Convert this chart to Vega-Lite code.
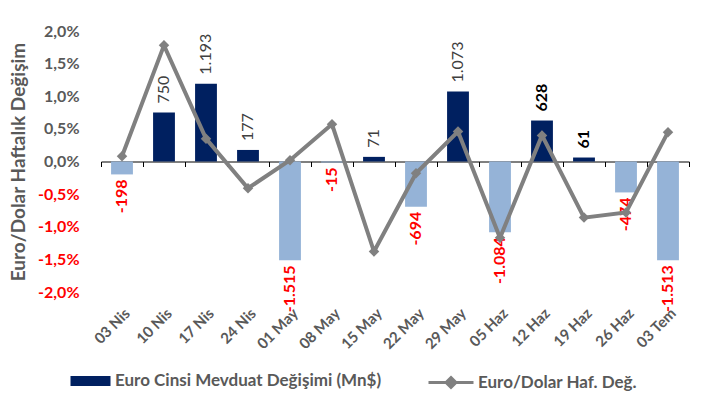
{
  "$schema": "https://vega.github.io/schema/vega-lite/v6.json",
  "width": 588,
  "height": 261,
  "autosize": {"type": "none"},
  "padding": {"left": 101, "top": 31, "right": 13, "bottom": 109},
  "background": "white",
  "config": {
    "locale": {"number": {"decimal": ",", "thousands": ".", "grouping": [3], "currency": ["", ""], "minus": "-"}},
    "view": {"stroke": null},
    "font": "Lato"
  },
  "data": {
    "values": [
      {"d": "03 Nis", "v": -198, "e": 0.0008},
      {"d": "10 Nis", "v": 750, "e": 0.0178},
      {"d": "17 Nis", "v": 1193, "e": 0.0035},
      {"d": "24 Nis", "v": 177, "e": -0.0041},
      {"d": "01 May", "v": -1515, "e": 0.0002},
      {"d": "08 May", "v": -15, "e": 0.0057},
      {"d": "15 May", "v": 71, "e": -0.0138},
      {"d": "22 May", "v": -694, "e": -0.0018},
      {"d": "29 May", "v": 1073, "e": 0.0046},
      {"d": "05 Haz", "v": -1084, "e": -0.0117},
      {"d": "12 Haz", "v": 628, "e": 0.0040},
      {"d": "19 Haz", "v": 61, "e": -0.0086},
      {"d": "26 Haz", "v": -474, "e": -0.0078},
      {"d": "03 Tem", "v": -1513, "e": 0.0045}
    ]
  },
  "layer": [
    {
      "mark": {"type": "bar", "width": {"band": 0.52}},
      "encoding": {
        "x": {
          "field": "d", "type": "nominal", "sort": null, "title": null,
          "scale": {"paddingInner": 0, "paddingOuter": 0},
          "axis": {
            "orient": "bottom", "offset": -130.5, "domain": true, "domainColor": "#000000", "domainWidth": 1,
            "ticks": true, "tickColor": "#000000", "tickSize": 5, "tickBand": "extent",
            "labelAngle": -45, "labelPadding": 139, "labelFont": "Lato", "labelFontSize": 15,
            "labelFontWeight": "bold", "labelColor": "#595959", "grid": false
          }
        },
        "y": {"field": "v", "type": "quantitative", "scale": {"domain": [-2000, 2000], "nice": false, "zero": false}, "axis": null},
        "color": {
          "datum": "Euro Cinsi Mevduat Değişimi (Mn$)",
          "scale": {"range": ["#002060"]},
          "condition": {"test": "datum.v < 0", "value": "#95B3D7"},
          "legend": {
            "orient": "none", "legendX": -30.5, "legendY": 330, "title": null, "padding": 0,
            "symbolType": "M-1,-0.25H1V0.25H-1Z", "symbolSize": 1600, "symbolStrokeWidth": 0,
            "labelFont": "Lato", "labelFontSize": 17, "labelFontWeight": "bold", "labelColor": "#595959", "labelOffset": 4.5, "labelLimit": 400
          }
        }
      }
    },
    {
      "transform": [{"filter": "datum.v >= 0 && datum.d !== '12 Haz' && datum.d !== '19 Haz'"}],
      "mark": {"type": "text", "angle": 270, "align": "left", "baseline": "middle", "dx": 9, "font": "Lato", "fontSize": 16, "color": "#404040"},
      "encoding": {
        "x": {"field": "d", "type": "nominal", "sort": null, "title": null},
        "y": {"field": "v", "type": "quantitative", "scale": {"domain": [-2000, 2000], "nice": false, "zero": false}, "axis": null},
        "text": {"field": "v", "type": "quantitative", "format": ",d"}
      }
    },
    {
      "transform": [{"filter": "datum.d === '12 Haz' || datum.d === '19 Haz'"}],
      "mark": {"type": "text", "angle": 270, "align": "left", "baseline": "middle", "dx": 9, "font": "Lato", "fontSize": 16, "fontWeight": "bold", "color": "#000000"},
      "encoding": {
        "x": {"field": "d", "type": "nominal", "sort": null, "title": null},
        "y": {"field": "v", "type": "quantitative", "scale": {"domain": [-2000, 2000], "nice": false, "zero": false}, "axis": null},
        "text": {"field": "v", "type": "quantitative", "format": ",d"}
      }
    },
    {
      "transform": [{"filter": "datum.v < 0"}],
      "mark": {"type": "text", "angle": 270, "align": "right", "baseline": "middle", "dx": -5, "font": "Lato", "fontSize": 16, "fontWeight": "bold", "color": "#FF0000"},
      "encoding": {
        "x": {"field": "d", "type": "nominal", "sort": null, "title": null},
        "y": {"field": "v", "type": "quantitative", "scale": {"domain": [-2000, 2000], "nice": false, "zero": false}, "axis": null},
        "text": {"field": "v", "type": "quantitative", "format": ",d"}
      }
    },
    {
      "mark": {"type": "line", "strokeWidth": 4, "point": {"shape": "diamond", "size": 110, "filled": true}},
      "encoding": {
        "x": {"field": "d", "type": "nominal", "sort": null, "title": null},
        "y": {
          "field": "e", "type": "quantitative",
          "scale": {"domain": [-0.02, 0.02], "nice": false, "zero": false},
          "axis": {
            "values": [-0.02, -0.015, -0.01, -0.005, 0, 0.005, 0.01, 0.015, 0.02],
            "format": ".1%", "domain": false, "ticks": false, "grid": false,
            "labelFont": "Lato", "labelFontSize": 16, "labelFontWeight": "bold",
            "labelColor": {"condition": {"test": "datum.value < 0", "value": "#FF0000"}, "value": "#595959"},
            "labelPadding": 22,
            "title": "Euro/Dolar Haftalık Değişim", "titleFont": "Lato", "titleFontSize": 19,
            "titleFontWeight": "bold", "titleColor": "#595959", "titlePadding": 9
          }
        },
        "color": {
          "datum": "Euro/Dolar Haf. Değ.",
          "scale": {"range": ["#808080"]},
          "legend": {
            "orient": "none", "legendX": 326, "legendY": 327.5, "title": null, "padding": 0,
            "symbolType": "M-1,0H1M0,-0.22L0.22,0L0,0.22L-0.22,0Z", "symbolSize": 2025, "symbolStrokeWidth": 3,
            "symbolFillColor": "#808080", "symbolStrokeColor": "#808080",
            "labelFont": "Lato", "labelFontSize": 17, "labelFontWeight": "bold", "labelColor": "#595959", "labelOffset": 3, "labelLimit": 400
          }
        }
      }
    }
  ],
  "resolve": {"scale": {"y": "independent", "color": "independent"}, "legend": {"color": "independent"}}
}
